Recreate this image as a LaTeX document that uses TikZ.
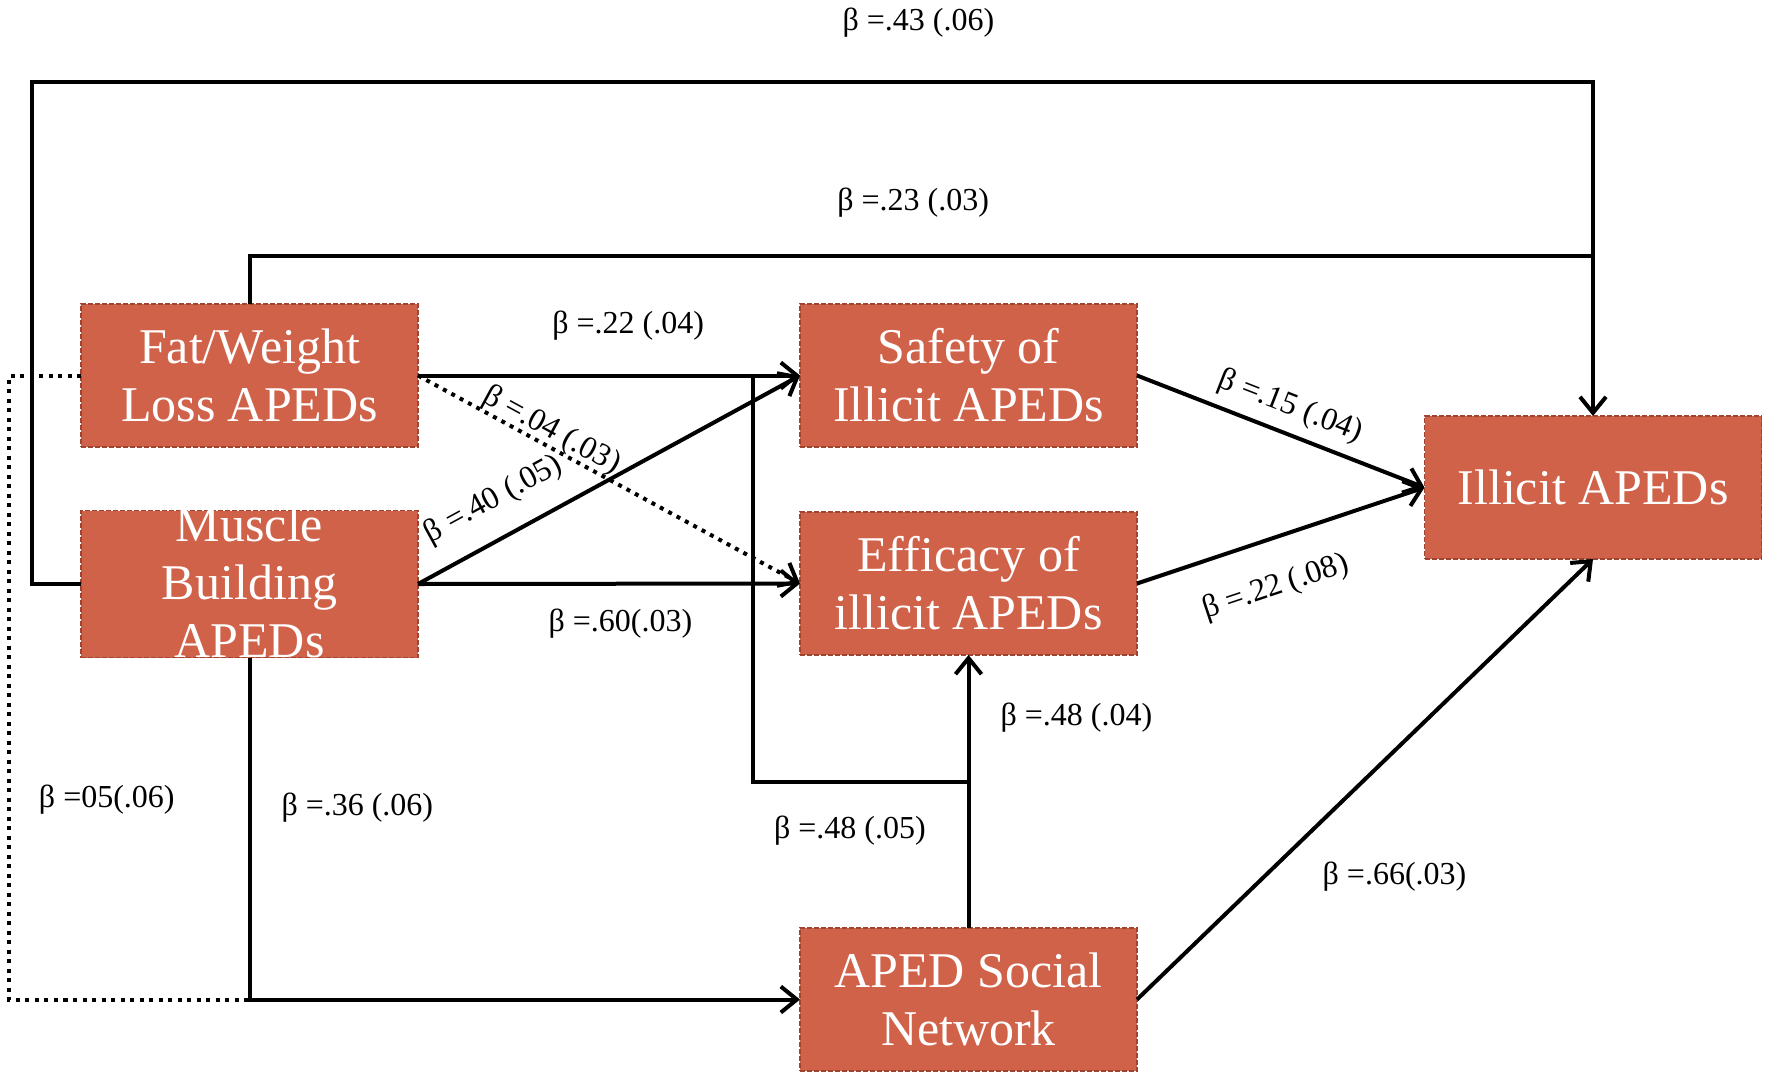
\documentclass[tikz,border=0pt]{standalone}
\usepackage{fontspec}
\setmainfont{Liberation Serif}
\usetikzlibrary{arrows.meta}

\begin{document}
\begin{tikzpicture}[x=0.5pt, y=-0.5pt, >={Straight Barb[length=8pt,width=13pt]},
		aped/.style={rectangle, fill=boxred, draw=boxedge, line width=0.7pt, dash pattern=on 2.5pt off 1pt,
			minimum width=168.5pt, minimum height=71.5pt, inner sep=0pt, outer sep=0pt,
			text=white, align=center, font=\fontsize{25}{29}\selectfont},
		link/.style={line width=2pt},
		weak/.style={line width=2pt, dash pattern=on 2pt off 2.75pt},
		coef/.style={font=\fontsize{16}{19}\selectfont, inner sep=0pt, text=black}]
			\definecolor{boxred}{RGB}{208, 98, 73}
			\definecolor{boxedge}{RGB}{160, 68, 48}
			\useasboundingbox (0,0) rectangle (1767,1071);
			% boxes
			\node[aped] (fat) at (249.5,375.5) {Fat/Weight\\Loss APEDs};
			\node[aped, text height=73.5pt, text depth=-2pt] (muscle) at (249.5,584) {Muscle\\Building\\APEDs};
			\node[aped] (safety) at (968.5,375.5) {Safety of\\Illicit APEDs};
			\node[aped] (efficacy) at (968.5,583.5) {Efficacy of\\illicit APEDs};
			\node[aped] (illicit) at (1593,487.5) {Illicit APEDs};
			\node[aped] (social) at (968.5,999.5) {APED Social\\Network};
			\coordinate (topL) at (31.5,82);
			\coordinate (topJ) at (1593,256);
			\coordinate (medB) at (753,781.5);
			\coordinate (dotL) at (9,375.5);
			% paths
			\draw[link, ->] (muscle.west) -| (topL) -| node[coef, pos=0.284, above=21.5pt] {β =.43 (.06)} (illicit.north);
			\draw[link] (fat.north) |- node[coef, pos=0.747, above=18.5pt] {β =.23 (.03)} (topJ);
			\draw[link, ->] (fat.east) -- node[coef, pos=0.55, above=16.5pt] {β =.22 (.04)} (safety.west);
			\draw[link, ->] (muscle.east) -- node[coef, sloped, pos=0.245, above=10.5pt] {β =.40 (.05)} (safety.west);
			\draw[weak, ->] (fat.east) -- node[coef, sloped, pos=0.33, above=-0.5pt] {β =.04 (.03)} (efficacy.west);
			\draw[link, ->] (muscle.east) -- node[coef, pos=0.53, below=11.5pt] {β =.60(.03)} (efficacy.west);
			\draw[link, ->] (safety.east) -- node[coef, sloped, pos=0.5, above=5pt] {β =.15 (.04)} (illicit.west);
			\draw[link, ->] (efficacy.east) -- node[coef, sloped, pos=0.43, below=15.5pt] {β =.22 (.08)} (illicit.west);
			\draw[link, ->] (social.east) -- node[coef, pos=0.28, right=28pt] {β =.66(.03)} (illicit.south);
			\draw[link, ->] (social.north) -- node[coef, pos=0.77, right=15pt] {β =.48 (.04)} (efficacy.south);
			\draw[link] (social.north |- medB) -- node[coef, pos=0.55, below=16pt] {β =.48 (.05)} (medB) -- (medB |- fat.east);
			\draw[link, ->] (muscle.south) |- node[coef, pos=0.22, right=15pt] {β =.36 (.06)} (social.west);
			\draw[weak] (fat.west) -- (dotL) |- node[coef, pos=0.34, right=14pt] {β =05(.06)} (muscle.south |- social.west);
		\end{tikzpicture}
\end{document}
